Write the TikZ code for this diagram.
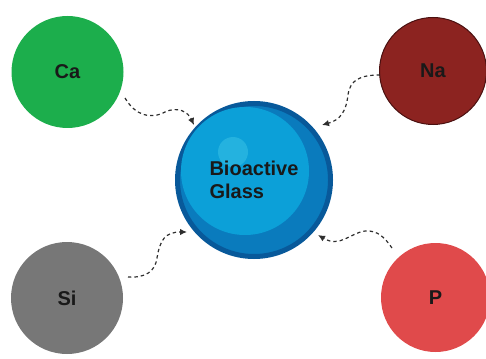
\documentclass[tikz,border=0pt]{standalone}
\usepackage{fontspec}
\setmainfont{Liberation Sans}
\usetikzlibrary{arrows.meta,positioning}

\definecolor{cagreen}{HTML}{1CAE4C}
\definecolor{nared}{HTML}{8C2320}
\definecolor{naedge}{HTML}{4A1010}
\definecolor{sigrey}{HTML}{777777}
\definecolor{pred}{HTML}{E04A4B}
\definecolor{glassdark}{HTML}{08599A}
\definecolor{glassmid}{HTML}{0A7BBD}
\definecolor{glasslight}{HTML}{0CA0D8}
\definecolor{glassshine}{HTML}{24B2DF}
\definecolor{arrowgrey}{HTML}{2E2E2E}

\tikzset{
  element/.style={circle, inner sep=0pt, font=\bfseries\fontsize{20}{23}\selectfont, text=black!90},
  flow/.style={draw=arrowgrey, line width=1.2pt, dash pattern=on 3.4pt off 3pt,
               -{Latex[length=7pt,width=6.5pt]}},
}

\begin{document}
\begin{tikzpicture}[x=1pt,y=-1pt]
\useasboundingbox (0,0) rectangle (486,358);
\clip (0,0) rectangle (486,358);

% the four elements
\node[element, fill=cagreen, minimum size=112] (ca) at (67.5,72) {Ca};
\node[element, fill=nared, draw=naedge, line width=1pt, minimum size=107] (na) at (433,71) {Na};
\node[element, fill=sigrey, minimum size=112] (si) at (67,298) {Si};
\node[element, fill=pred, minimum size=109] (p) at (435.5,297.5) {P};

% the glass sphere
\node[circle, fill=glassmid, draw=glassdark, line width=5pt, minimum size=153] (glass) at (254,180) {};
\fill[glasslight] (245,171) circle (64);
\fill[glassshine] (233,152) circle (15);
\node[element, align=left] (glasstxt) at (glass.center) {Bioactive\\Glass};

% ends of the wavy arrows
\coordinate (caout) at (125,98);
\coordinate (cain) at (194,125);
\coordinate (naout) at (380,75);
\coordinate (nain) at (322,125);
\coordinate (siout) at (128,277);
\coordinate (siin) at (187,232);
\coordinate (pout) at (392,248);
\coordinate (pin) at (318,235);

\draw[flow] (caout) .. controls (135,115) and (150,120) .. (165,112)
                    .. controls (178,106) and (188,112) .. (cain);
\draw[flow] (naout) .. controls (360,75) and (350,80) .. (348,95)
                    .. controls (346,112) and (340,120) .. (nain);
\draw[flow] (siout) .. controls (145,278) and (155,272) .. (157,258)
                    .. controls (160,240) and (165,232) .. (siin);
\draw[flow] (pout) .. controls (385,238) and (378,230) .. (365,231)
                   .. controls (350,233) and (340,248) .. (pin);
\end{tikzpicture}
\end{document}
